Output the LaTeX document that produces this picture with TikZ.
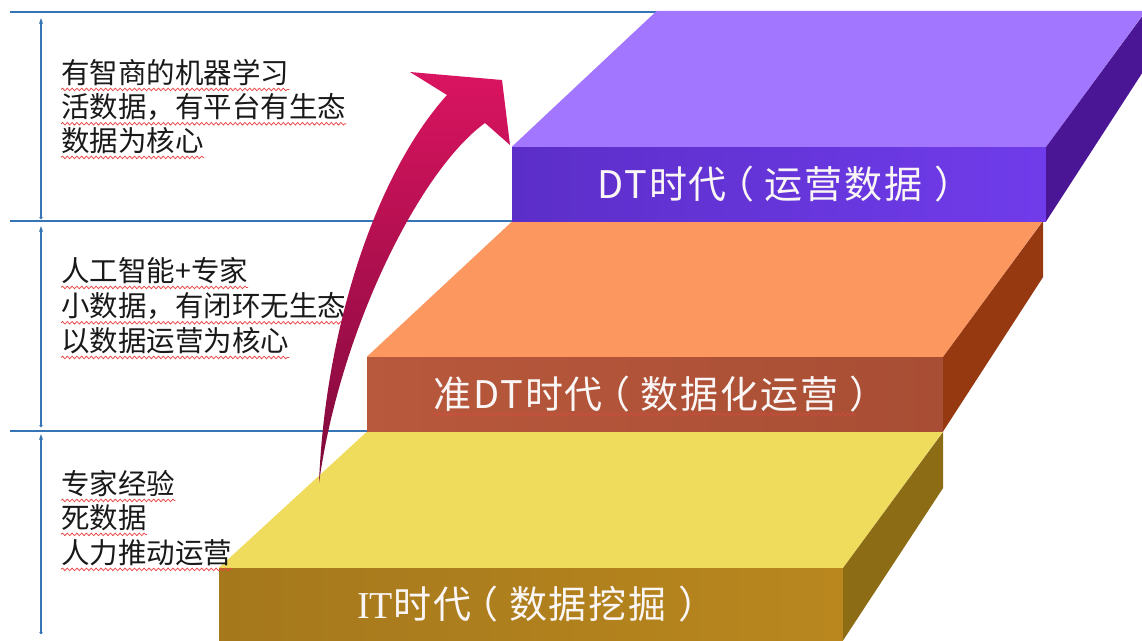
\documentclass[tikz,border=0pt]{standalone}
\usepackage{fontspec}
\setmainfont{Noto Sans CJK SC}
\newfontfamily\labelfont[LetterSpace=5]{Noto Sans CJK SC}
\newfontfamily\serifIT{Liberation Serif}
\usetikzlibrary{arrows.meta,decorations.pathmorphing}
\newcommand\lparen{\kern-0.27em（\kern0.27em}
\newcommand\rparen{\kern0.3em）\kern-0.3em}

\definecolor{guideblue}{RGB}{53,117,181}
\definecolor{textgray}{RGB}{25,25,25}
\definecolor{squigred}{RGB}{235,70,70}
\definecolor{ptop}{RGB}{162,118,255}
\definecolor{pfrontL}{RGB}{92,46,200}
\definecolor{pfrontR}{RGB}{112,60,235}
\definecolor{pside}{RGB}{74,22,150}
\definecolor{otop}{RGB}{252,151,96}
\definecolor{ofrontL}{RGB}{184,88,60}
\definecolor{ofrontR}{RGB}{168,78,52}
\definecolor{oside}{RGB}{150,56,16}
\definecolor{ytop}{RGB}{240,220,92}
\definecolor{yfrontL}{RGB}{165,120,28}
\definecolor{yfrontM}{RGB}{212,163,40}
\definecolor{yfrontR}{RGB}{185,135,30}
\definecolor{yside}{RGB}{140,108,20}
\definecolor{arrowtop}{RGB}{218,20,96}
\definecolor{arrowbot}{RGB}{125,10,58}
\definecolor{labelwhite}{RGB}{250,246,246}

\begin{document}
\begin{tikzpicture}[x=1pt,y=-1pt,
  guide/.style={draw=guideblue, line width=1.2pt},
  dimline/.style={draw=guideblue, line width=1.2pt,
     {Circle[length=3pt]}-{Stealth[length=6pt,width=4pt]}},
  note/.style={anchor=west, inner sep=0pt, text=textgray,
     font=\fontsize{28.5}{28.5}\selectfont},
  squig/.style={draw=squigred, line width=0.75pt, decorate,
     decoration={snake, amplitude=1.3pt, segment length=4.8pt}},
  face/.style={inner sep=0pt},
  slablabel/.style={inner sep=0pt, text=labelwhite,
     font=\labelfont\fontsize{38}{38}\selectfont},
]
\useasboundingbox (0,0) rectangle (1142,640);
\fill[white] (0,0) rectangle (1142,640);

% guide lines
\coordinate (g1a) at (10,12);   \coordinate (g1b) at (657,12);
\coordinate (g2a) at (10,221);  \coordinate (g2b) at (512,221);
\coordinate (g3a) at (10,431);  \coordinate (g3b) at (367,431);
\draw[guide] (g1a) -- (g1b);
\draw[guide] (g2a) -- (g2b);
\draw[guide] (g3a) -- (g3b);

\coordinate (d1b) at (41,219); \coordinate (d1t) at (41,18);
\coordinate (d2b) at (41,427); \coordinate (d2t) at (41,226);
\coordinate (d3b) at (41,634); \coordinate (d3t) at (41,434);
\draw[dimline] (d1b) -- (d1t);
\draw[dimline] (d2b) -- (d2t);
\draw[dimline] (d3b) -- (d3t);

% ---- yellow slab (IT)
\node[face, minimum width=624pt, minimum height=72pt,
      left color=yfrontL, middle color=yfrontM, right color=yfrontR]
      (it) at (531,604) {};
\fill[ytop] (it.north west) -- ++(148,-136) -- ++(576,0) -- (it.north east) -- cycle;
\fill[yside] (it.north east) -- ++(100,-136) -- ++(0,56) -- (it.south east) -- cycle;
\node[slablabel] (itl) at (it) {{\serifIT IT}时代\lparen 数据挖掘\rparen};

% ---- orange slab (quasi DT)
\node[face, minimum width=576pt, minimum height=74pt,
      left color=ofrontL, right color=ofrontR]
      (qdt) at (655,394) {};
\fill[otop] (qdt.north west) -- ++(146,-136) -- ++(530,0) -- (qdt.north east) -- cycle;
\fill[oside] (qdt.north east) -- ++(100,-136) -- ++(0,56) -- (qdt.south east) -- cycle;
\node[slablabel] (qdtl) at (qdt) {准DT时代\lparen 数据化运营\rparen};
\draw[squig, draw opacity=0.5] ([yshift=-2pt]qdtl.south west) -- ([yshift=-2pt,xshift=-20pt]qdtl.south east);

% ---- purple slab (DT)
\node[face, minimum width=534pt, minimum height=74pt,
      left color=pfrontL, right color=pfrontR]
      (dt) at (779,184) {};
\fill[ptop] (dt.north west) -- ++(145,-136) -- ++(489,0) -- (dt.north east) -- cycle;
\fill[pside] (dt.north east) -- ++(100,-136) -- ++(0,56) -- (dt.south east) -- cycle;
\node[slablabel] (dtl) at (dt) {DT时代\lparen 运营数据\rparen};

% ---- left notes
\node[note] (a1) at (61,73)  {有智商的机器学习};
\node[note] (a2) at (61,107) {活数据，有平台有生态};
\node[note] (a3) at (61,141) {数据为核心};
\node[note] (b1) at (61,271) {人工智能+专家};
\node[note] (b2) at (61,306) {小数据，有闭环无生态};
\node[note] (b3) at (61,341) {以数据运营为核心};
\node[note] (c1) at (61,484) {专家经验};
\node[note] (c2) at (61,518) {死数据};
\node[note] (c3) at (61,553) {人力推动运营};
\foreach \n in {a1,a2,a3,b1,b2,b3,c1,c2,c3}{
  \draw[squig] ([yshift=-3pt]\n.south west) -- ([yshift=-3pt]\n.south east);
}

% ---- rising arrow
\shade[top color=arrowtop, bottom color=arrowbot]
  (319,483) .. controls (325,330) and (375,175) .. (447,95)
  -- (410,72) -- (502,80) -- (510,145) -- (485,123)
  .. controls (420,170) and (340,330) .. (319,483) -- cycle;
\end{tikzpicture}
\end{document}
